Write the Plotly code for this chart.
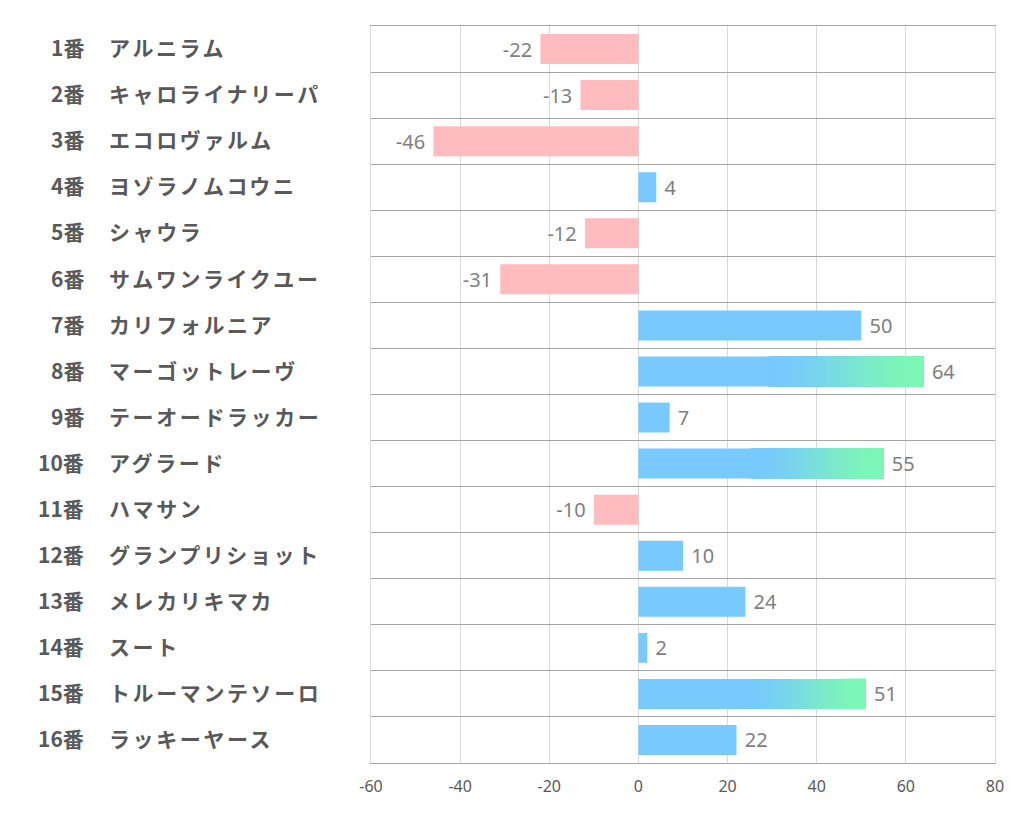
import plotly.graph_objects as go

numbers = ["1番", "2番", "3番", "4番", "5番", "6番", "7番", "8番", "9番", "10番",
           "11番", "12番", "13番", "14番", "15番", "16番"]
names = ["アルニラム", "キャロライナリーパ", "エコロヴァルム", "ヨゾラノムコウニ", "シャウラ",
         "サムワンライクユー", "カリフォルニア", "マーゴットレーヴ", "テーオードラッカー", "アグラード",
         "ハマサン", "グランプリショット", "メレカリキマカ", "スート", "トルーマンテソーロ", "ラッキーヤース"]
values = [-22, -13, -46, 4, -12, -31, 50, 64, 7, 55, -10, 10, 24, 2, 51, 22]
x_ticks = [-60, -40, -20, 0, 20, 40, 60, 80]

BLUE = (119, 201, 255)
GREEN = (124, 247, 181)
PINK = "#FFBBBE"
GRAD_THRESHOLD = 50
GRAD_START = 0.45
N_STEPS = 60

ypos = list(range(len(values)))
colors = [PINK if v < 0 else "rgb(%d,%d,%d)" % BLUE for v in values]
labels = ["\u00a0" + str(v) if v >= 0 else str(v) + "\u00a0" for v in values]

fig = go.Figure()
fig.add_trace(go.Bar(
    y=ypos, x=values, orientation="h", width=0.65,
    marker=dict(color=colors, line=dict(width=0)),
    text=labels, textposition="outside",
    textfont=dict(family="Noto Sans", size=20, color="#7F7F7F"),
    cliponaxis=False, showlegend=False, hoverinfo="skip",
))

# gradient overlays for the large bars (smoothstep blend blue -> green)
for k in range(N_STEPS):
    t = k / N_STEPS
    u = k / (N_STEPS - 1)
    f = u * u * (3 - 2 * u)
    c = tuple(round(BLUE[i] + (GREEN[i] - BLUE[i]) * f) for i in range(3))
    gy, gx, gb = [], [], []
    for y, v in zip(ypos, values):
        if v > GRAD_THRESHOLD:
            s = v * (GRAD_START + (1 - GRAD_START) * t)
            gy.append(y)
            gb.append(s)
            gx.append(v - s)
    fig.add_trace(go.Bar(
        y=gy, x=gx, base=gb, orientation="h", width=0.65,
        marker=dict(color="rgb(%d,%d,%d)" % c, line=dict(width=0)),
        showlegend=False, hoverinfo="skip",
    ))

# page body has an 8px margin; target plot box is x 371..995, y 26..763
OFF = 8
W, H = 1022, 834
L = 371 - OFF
T = 26 - OFF
R = W + OFF - 995
B = H + OFF - 763
pw = 995 - 371

annotations = []
for y, num, name in zip(ypos, numbers, names):
    annotations.append(dict(x=(86 - 371) / pw, y=y - 0.04, xref="paper", yref="y", text=num,
                            showarrow=False, xanchor="right", yanchor="middle",
                            font=dict(family="Noto Sans CJK JP", size=21, color="#595959", weight="bold")))
    annotations.append(dict(x=(107 - 371) / pw, y=y - 0.04, xref="paper", yref="y",
                            text='<span style="letter-spacing:2.6px">%s</span>' % name,
                            showarrow=False, xanchor="left", yanchor="middle",
                            font=dict(family="Noto Sans CJK JP", size=21, color="#595959", weight="bold")))

fig.update_layout(
    width=W, height=H,
    margin=dict(l=L, r=R, t=T, b=B),
    paper_bgcolor="white", plot_bgcolor="white",
    barmode="overlay",
    annotations=annotations,
    xaxis=dict(range=[-60, 80], tickvals=x_ticks, ticktext=[str(t) for t in x_ticks],
               showgrid=True, gridcolor="#D9D9D9", gridwidth=1, zeroline=False,
               showline=True, linecolor="#A6A6A6", linewidth=1, mirror=True,
               ticks="", ticklabelstandoff=9,
               tickfont=dict(family="Noto Sans", size=16, color="#595959")),
    yaxis=dict(range=[15.5, -0.5], tick0=-0.5, dtick=1, showticklabels=False,
               showgrid=True, gridcolor="#A6A6A6", gridwidth=1, zeroline=False,
               showline=True, linecolor="#D9D9D9", mirror=True, ticks=""),
)

fig.write_html("out.html")
